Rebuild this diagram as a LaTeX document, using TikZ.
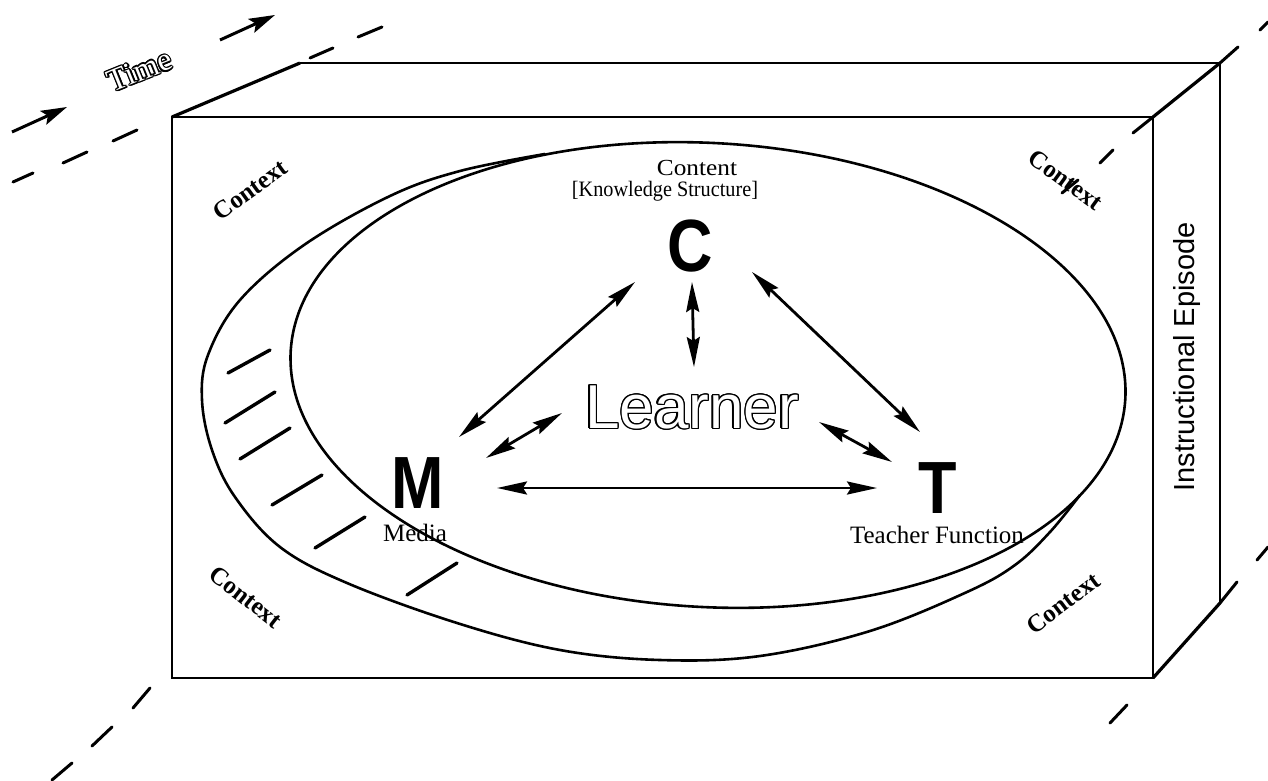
\documentclass[tikz,border=0pt]{standalone}
\usepackage{fontspec}
\setmainfont{Liberation Serif}
\newfontfamily\hel{Liberation Sans}
\usepackage{contour}
\contourlength{1.3pt}
\usetikzlibrary{arrows.meta}
\tikzset{
 boxln/.style={line width=2.2pt},
 depth/.style={line width=3.2pt},
 curve/.style={line width=2.6pt},
 dsh/.style={line width=3pt, line cap=round},
 hatch/.style={line width=3.4pt, line cap=round},
 tarrow/.style={line width=3pt, -{Stealth[length=26pt,width=15pt,inset=5pt]}},
 link/.style={line width=2.8pt, {Stealth[length=30pt,width=13pt,inset=4pt]}-{Stealth[length=30pt,width=13pt,inset=4pt]}},
 big/.style={font=\hel\bfseries\fontsize{74}{74}\selectfont, inner sep=0pt, xscale=0.85},
 lab/.style={font=\fontsize{25}{28}\selectfont, inner sep=0pt},
 ctx/.style={font=\bfseries\fontsize{25}{25}\selectfont, inner sep=0pt},
}
\begin{document}
\begin{tikzpicture}[x=1pt,y=-1pt]
\useasboundingbox (0,0) rectangle (1268,781);
% box
\draw[boxln] (172,117) rectangle (1153,678);
\draw[boxln] (300,63) -- (1220,63) -- (1220,603);
\draw[depth] (172,117) -- (300,63);
\draw[depth] (1153,117) -- (1220,63);
\draw[depth] (1153,678) -- (1220,603);
% dashed guide lines
\draw[dsh] (13,182) -- (33,173);
\draw[dsh] (63,163) -- (87,152);
\draw[dsh] (113,141) -- (137,130);
\draw[dsh] (310,58) -- (333,48);
\draw[dsh] (358,37) -- (382,27);
\draw[dsh] (1133,133) -- (1153,117);
\draw[dsh] (1220,63) -- (1238,47);
\draw[dsh] (1260,30) -- (1268,22);
\draw[dsh] (1100,163) -- (1113,150);
\draw[dsh] (1062,193) -- (1078,180);
\draw[dsh] (1220,603) -- (1237,582);
\draw[dsh] (1257,560) -- (1268,547);
\draw[dsh] (1127,705) -- (1110,723);
\draw[dsh] (150,688) -- (133,708);
\draw[dsh] (112,727) -- (92,746);
\draw[dsh] (72,763) -- (52,780);
% time arrows
\coordinate (ta1) at (12,132); \coordinate (ta2) at (67,107);
\coordinate (tb1) at (220,40); \coordinate (tb2) at (275,15);
\draw[tarrow] (ta1) -- (ta2);
\draw[tarrow] (tb1) -- (tb2);
\node[rotate=22, inner sep=0pt] (time) at (140,71) {\fontsize{32}{32}\selectfont\color{white}\contour{black}{Time}};
% front disc face (full ellipse)
\draw[curve, rotate around={-3.3:(708,375)}] (708,375) ellipse [x radius=418, y radius=232];
% back disc face (visible arc)
\draw[curve] plot[smooth, tension=0.6] coordinates {
 (545,154) (460,171) (390,196) (304,245) (240,300) (208,355) (202,400) (212,450)
 (235,497) (280,547) (347,583) (457,623) (560,650) (660,660) (760,656)
 (870,631) (967,592) (1015,565) (1050,532) (1080,495)};
% hatching
\draw[hatch] (228,373) -- (270,350);
\draw[hatch] (225,423) -- (275,392);
\draw[hatch] (240,459) -- (290,428);
\draw[hatch] (272,505) -- (322,475);
\draw[hatch] (315,548) -- (365,517);
\draw[hatch] (407,595) -- (457,563);
% context labels
\node[ctx, rotate=36] (ctxA) at (250,190) {Context};
\node[ctx, rotate=-36] (ctxB) at (1066,180) {Context};
\node[ctx, rotate=-38] (ctxC) at (246,597) {Context};
\node[ctx, rotate=37] (ctxD) at (1063,603) {Context};
% side label
\node[rotate=90, inner sep=0pt, font=\hel\fontsize{29}{29}\selectfont] (ep) at (1187,357) {Instructional Episode};
% content
\node[inner sep=0pt, font=\fontsize{23}{26}\selectfont, xscale=1.1] (cont) at (697,168) {Content};
\node[inner sep=0pt, font=\fontsize{22}{26}\selectfont, xscale=0.92] (ks) at (665,191) {[Knowledge Structure]};
\node[big] (C) at (690,246) {C};
\node[big] (M) at (418,483) {M};
\node[big] (T) at (938,488) {T};
\node[lab] (med) at (415,533) {Media};
\node[lab] (tf) at (937,535) {Teacher Function};
\node[inner sep=0pt] (L) at (692,408) {\hel\fontsize{62}{62}\selectfont\color{white}\contour{black}{Learner}};
% links
\coordinate (cm1) at (635,282); \coordinate (cm2) at (459,437);
\coordinate (cl1) at (692,282); \coordinate (cl2) at (694,367);
\coordinate (ct1) at (752,272); \coordinate (ct2) at (920,432);
\coordinate (ml1) at (486,458); \coordinate (ml2) at (562,413);
\coordinate (lt1) at (819,422); \coordinate (lt2) at (892,462);
\coordinate (mt1) at (497,488); \coordinate (mt2) at (877,488);
\draw[link] (cm1) -- (cm2);
\draw[link] (cl1) -- (cl2);
\draw[link] (ct1) -- (ct2);
\draw[link] (ml1) -- (ml2);
\draw[link] (lt1) -- (lt2);
\draw[link] (mt1) -- (mt2);
\end{tikzpicture}
\end{document}
